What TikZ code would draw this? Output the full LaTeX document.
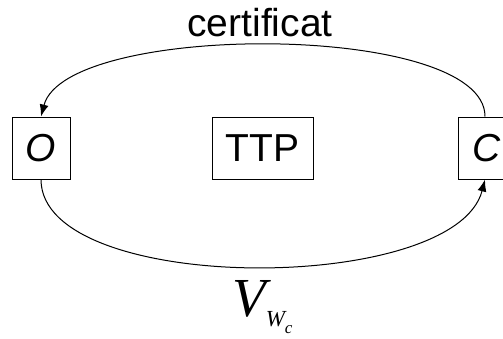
\documentclass[tikz,border=0pt]{standalone}
\usepackage{fontspec}
\setmainfont{Liberation Sans}
\newfontfamily\timesfont{Liberation Serif}
\usetikzlibrary{arrows.meta}

\tikzset{
    party/.style={draw, line width=1pt, inner sep=0pt, minimum height=62pt,
        font=\fontsize{39}{39}\selectfont},
    msg/.style={line width=1pt, -{Latex[length=12pt,width=9pt]}}
}

\begin{document}
\begin{tikzpicture}[x=1pt,y=1pt]
        \useasboundingbox (0,0) rectangle (503,338);
        % the three parties
        \node[party, minimum width=58pt] (owner) at (41,190) {\itshape O};
        \node[party, minimum width=101pt] (ttp) at (262.5,190) {TTP};
        \node[party, minimum width=58pt] (client) at (487,190) {\itshape C};
        % messages between O and C
        \draw[msg] ([xshift=-2pt]client.north) .. controls +(0,95) and +(25,95) .. (owner.north);
        \draw[msg] (owner.south) .. controls +(0,-116) and +(-30,-116) .. ([xshift=-2pt]client.south);
        \node[anchor=base, font=\fontsize{39}{39}\selectfont] (cert) at (260,301) {certificat};
        \node[anchor=base west, inner sep=0pt, font=\timesfont\itshape\fontsize{55}{55}\selectfont] (vw) at (232,22)
            {V\raisebox{-10pt}{\fontsize{23}{23}\selectfont W\raisebox{-7pt}{\fontsize{17}{17}\selectfont c}}};
    \end{tikzpicture}
\end{document}
